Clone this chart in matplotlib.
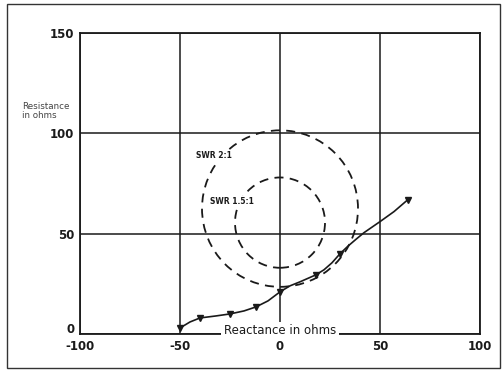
import matplotlib.pyplot as plt
from matplotlib.patches import Ellipse, Rectangle
from matplotlib.transforms import ScaledTranslation
import numpy as np

plt.rcParams['axes.unicode_minus'] = False

# measured impedance curve (reactance, resistance)
curve_x = [-50, -45, -40, -32, -25, -18, -12, -6, 0, 5, 10, 18, 22, 26, 30, 34, 38, 42, 50, 57, 64]
curve_r = [3, 6, 8, 9, 10, 11.5, 13.5, 16.5, 21, 24, 26, 29.5, 32, 35.5, 40, 43.8, 47.2, 50.5, 56, 61, 67]
marker_idx = [0, 2, 4, 6, 8, 11, 14, 20]

# SWR circles: center x, center r, radius
swr_labels = ["SWR 2:1", "SWR 1.5:1"]
swr_cx = [0, 0]
swr_cr = [62.5, 55.5]
swr_rad = [39, 22.5]
swr_text_pos = [(-42, 89), (-35, 66)]

ink = "#1a1a1a"

fig = plt.figure(figsize=(5.04, 3.72), dpi=100)
# outer frame
fig.patches.append(Rectangle((7 / 504, 4 / 372), 493 / 504, 364 / 372, transform=fig.transFigure,
                             fill=False, edgecolor="#333333", linewidth=1.0))

ax = fig.add_axes([80 / 504, 1 - 334 / 372, 400 / 504, 301 / 372])
ax.set_xlim(-100, 100)
ax.set_ylim(0, 150)
ax.set_xticks([-100, -50, 0, 50, 100])
ax.set_yticks([0, 50, 100, 150])
ax.grid(True, color=ink, linewidth=1.1)
ax.tick_params(length=0, labelsize=8.5, colors=ink, pad=4)
for lab in ax.get_xticklabels() + ax.get_yticklabels():
    lab.set_fontweight("bold")
# lift the "0" label a little, as in the original
zero = ax.get_yticklabels()[0]
zero.set_transform(zero.get_transform() + ScaledTranslation(0, 6 / 100, fig.dpi_scale_trans))
for s in ax.spines.values():
    s.set_linewidth(1.3)
    s.set_color(ink)

for cx, cr, rad in zip(swr_cx, swr_cr, swr_rad):
    ax.add_patch(Ellipse((cx, cr), 2 * rad, 2 * rad, fill=False, edgecolor=ink,
                         linestyle=(0, (5, 3.5)), linewidth=1.3))
for lab, (tx, tr) in zip(swr_labels, swr_text_pos):
    ax.text(tx, tr, lab, fontsize=5.5, fontweight="bold", color=ink, va="center",
            bbox=dict(facecolor="white", edgecolor="none", pad=1))

ax.plot(curve_x, curve_r, color=ink, linewidth=1.2, marker="v", markersize=4,
        markevery=marker_idx)

ax.text(0, 1.5, "Reactance in ohms", fontsize=8.5, color=ink, ha="center", va="center",
        bbox=dict(facecolor="white", edgecolor="none", pad=2))
ax.text(-0.145, 0.74, "Resistance\nin ohms", transform=ax.transAxes, fontsize=6.3,
        color="#444444", ha="left", va="center", linespacing=1.0)

fig.savefig("out.png", dpi=100)
